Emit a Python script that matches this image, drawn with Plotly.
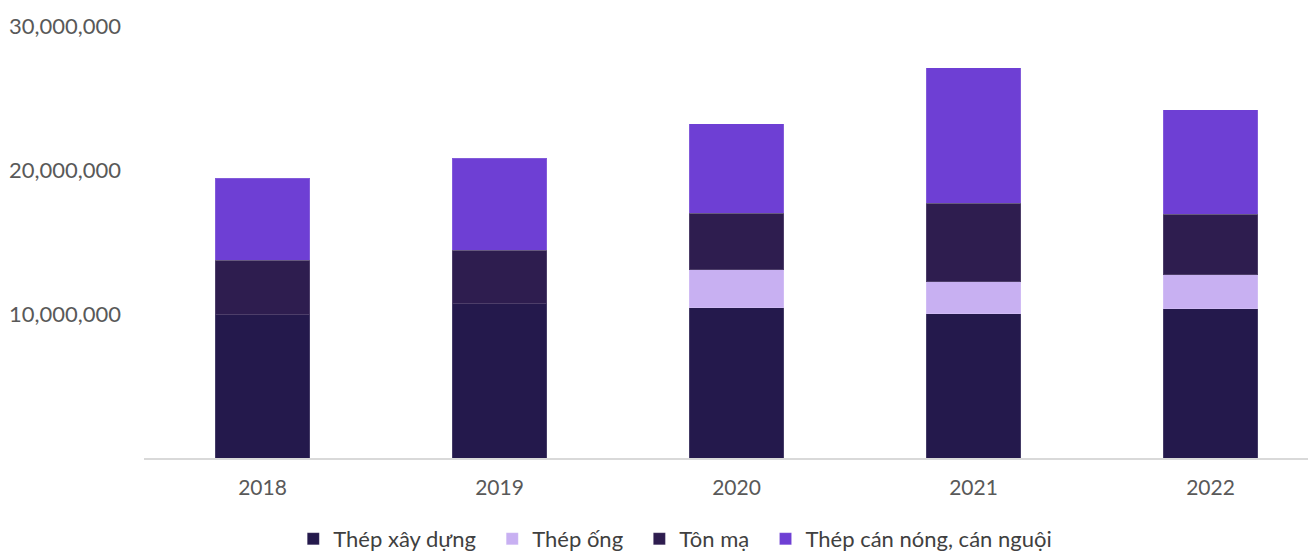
import plotly.graph_objects as go

years = ["2018", "2019", "2020", "2021", "2022"]
thep_xay_dung = [9950000, 10710000, 10440000, 10020000, 10370000]
thep_ong = [0, 0, 2620000, 2210000, 2350000]
ton_ma = [3800000, 3730000, 3940000, 5460000, 4210000]
thep_can = [5670000, 6360000, 6220000, 9400000, 7260000]

series = [
    ("Thép xây dựng", thep_xay_dung, "#24194c"),
    ("Thép ống", thep_ong, "#c8b0f2"),
    ("Tôn mạ", ton_ma, "#2e1d4f"),
    ("Thép cán nóng, cán nguội", thep_can, "#6e3fd4"),
]

pad = "\u00a0\u00a0"

fig = go.Figure()
for name, vals, color in series:
    fig.add_trace(go.Bar(
        x=years, y=vals, name=name + pad, width=0.4,
        marker=dict(color=color, line=dict(color="rgba(255,255,255,0.15)", width=1)),
    ))

fig.update_layout(
    barmode="stack",
    width=1308, height=552,
    margin=dict(l=136, r=0, t=18, b=92),
    paper_bgcolor="white", plot_bgcolor="white",
    font=dict(family="Lato, Open Sans, sans-serif", size=22, color="#595959"),
    xaxis=dict(
        type="category", range=[-0.5, 4.445], automargin=False,
        showline=True, linecolor="#d9d9d9", linewidth=1.5,
        showgrid=False, ticks="", ticklabelstandoff=10,
        tickfont=dict(size=21),
    ),
    yaxis=dict(
        range=[0, 30000000], tickvals=[10000000, 20000000, 30000000],
        tickformat=",d", showgrid=False, zeroline=False, showline=False,
        ticks="", ticklabelstandoff=22, automargin=False,
    ),
    legend=dict(
        orientation="h", x=0.458, xanchor="center", y=-0.14, yanchor="top",
        font=dict(size=22, color="#404040"), traceorder="normal",
    ),
)

fig.write_html("out.html")
